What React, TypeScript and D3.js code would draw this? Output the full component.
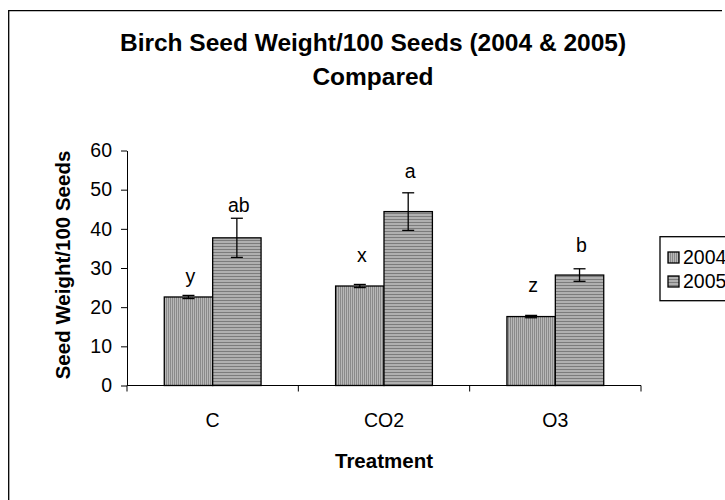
import React, { useRef, useEffect } from 'react';
import * as d3 from 'd3';

// treatments on the x axis
const treatments = ['C', 'CO2', 'O3'];
const years = ['2004', '2005'];

// mean seed weight per 100 seeds
const weight2004 = [22.6, 25.4, 17.6];
const weight2005 = [37.7, 44.4, 28.2];
// error bar half-lengths
const err2004 = [0.4, 0.4, 0.3];
const err2005 = [5.0, 4.8, 1.6];
// significance letters and the value their baseline sits at
const letters2004 = ['y', 'x', 'z'];
const letters2005 = ['ab', 'a', 'b'];
const letterAt2004 = [26.2, 31.6, 24.0];
const letterAt2005 = [44.4, 53.0, 34.2];

const yTicks = [0, 10, 20, 30, 40, 50, 60];

const font = '"Liberation Sans", Arial, sans-serif';

const App = () => {
  const ref = useRef<SVGSVGElement>(null);

  useEffect(() => {
    const svg = d3.select(ref.current);
    svg.selectAll('*').remove();

    const defs = svg.append('defs');
    // 2004: vertical stripes
    const pv = defs.append('pattern').attr('id', 'p2004')
      .attr('patternUnits', 'userSpaceOnUse').attr('width', 2).attr('height', 2);
    pv.append('rect').attr('width', 2).attr('height', 2).attr('fill', '#b8b8b8');
    pv.append('rect').attr('width', 1).attr('height', 2).attr('fill', '#8a8a8a');
    // 2005: horizontal stripes
    const ph = defs.append('pattern').attr('id', 'p2005')
      .attr('patternUnits', 'userSpaceOnUse').attr('width', 3).attr('height', 3);
    ph.append('rect').attr('width', 3).attr('height', 3).attr('fill', '#b0b0b0');
    ph.append('rect').attr('width', 3).attr('height', 1).attr('fill', '#7c7c7c');

    // chart area border (cropped at right and bottom)
    svg.append('path')
      .attr('d', 'M722,10.7H8.7V500')
      .attr('fill', 'none').attr('stroke', 'black').attr('stroke-width', 1.3);

    const x0 = d3.scaleBand().domain(treatments).range([127, 641]);
    const x1 = d3.scaleBand().domain(years).range([0, x0.bandwidth()])
      .paddingInner(0).paddingOuter(0.77);
    const y = d3.scaleLinear().domain([0, 60]).range([385.5, 150.5]);

    const values: Record<string, number[]> = { '2004': weight2004, '2005': weight2005 };
    const errs: Record<string, number[]> = { '2004': err2004, '2005': err2005 };
    const letters: Record<string, string[]> = { '2004': letters2004, '2005': letters2005 };
    const letterAt: Record<string, number[]> = { '2004': letterAt2004, '2005': letterAt2005 };

    // y axis
    const yAxis = svg.append('g')
      .attr('transform', `translate(${x0.range()[0]},0)`)
      .call(d3.axisLeft(y).tickValues(yTicks).tickSize(6).tickSizeOuter(0).tickPadding(9));
    yAxis.select('.domain').attr('stroke', 'black');
    yAxis.selectAll('line').attr('stroke', 'black');
    yAxis.selectAll('text').attr('font-family', font).attr('font-size', 19.5).attr('fill', 'black');

    const g = svg.append('g');

    years.forEach(yr => {
      treatments.forEach((t, i) => {
        const bx = x0(t)! + x1(yr)!;
        const bw = x1.bandwidth();
        const v = values[yr][i];
        g.append('rect')
          .attr('x', bx).attr('y', y(v))
          .attr('width', bw).attr('height', y(0) - y(v))
          .attr('fill', `url(#p${yr})`)
          .attr('stroke', 'black').attr('stroke-width', 1.3);

        const cx = bx + bw / 2;
        const e = errs[yr][i];
        const eb = g.append('g').attr('stroke', 'black').attr('stroke-width', 1.3);
        eb.append('line').attr('x1', cx).attr('x2', cx).attr('y1', y(v - e)).attr('y2', y(v + e));
        eb.append('line').attr('x1', cx - 6).attr('x2', cx + 6).attr('y1', y(v + e)).attr('y2', y(v + e));
        eb.append('line').attr('x1', cx - 6).attr('x2', cx + 6).attr('y1', y(v - e)).attr('y2', y(v - e));

        g.append('text')
          .attr('x', cx + 2).attr('y', y(letterAt[yr][i]))
          .attr('text-anchor', 'middle')
          .attr('font-family', font).attr('font-size', 19.5)
          .text(letters[yr][i]);
      });
    });

    // x axis with ticks at category boundaries
    const [xs, xe] = x0.range();
    svg.append('line').attr('x1', xs).attr('x2', xe).attr('y1', y(0)).attr('y2', y(0))
      .attr('stroke', 'black');
    const bounds = treatments.map(t => x0(t)!).concat([xe]);
    svg.append('g').selectAll('line').data(bounds).join('line')
      .attr('x1', d => d).attr('x2', d => d)
      .attr('y1', y(0)).attr('y2', y(0) + 6)
      .attr('stroke', 'black');
    svg.append('g').selectAll('text').data(treatments).join('text')
      .attr('x', d => x0(d)! + x0.bandwidth() / 2)
      .attr('y', 426.5)
      .attr('text-anchor', 'middle')
      .attr('font-family', font).attr('font-size', 19.5)
      .text(d => d);

    // titles
    const title = svg.append('text')
      .attr('text-anchor', 'middle')
      .attr('font-family', font).attr('font-size', 24.5).attr('font-weight', 'bold');
    title.append('tspan').attr('x', 373).attr('y', 51).text('Birch Seed Weight/100 Seeds (2004 & 2005)');
    title.append('tspan').attr('x', 373).attr('y', 85).text('Compared');

    svg.append('text')
      .attr('x', (xs + xe) / 2).attr('y', 468)
      .attr('text-anchor', 'middle')
      .attr('font-family', font).attr('font-size', 20.5).attr('font-weight', 'bold')
      .text('Treatment');

    svg.append('text')
      .attr('transform', `translate(70,${(y(0) + y(60)) / 2 - 3}) rotate(-90)`)
      .attr('text-anchor', 'middle')
      .attr('font-family', font).attr('font-size', 20.5).attr('font-weight', 'bold')
      .text('Seed Weight/100 Seeds');

    // legend
    svg.append('rect')
      .attr('x', 660).attr('y', 236.7).attr('width', 80).attr('height', 64)
      .attr('fill', 'white').attr('stroke', 'black').attr('stroke-width', 1.3);
    const ly = d3.scalePoint().domain(years).range([257, 281]);
    years.forEach(yr => {
      svg.append('rect')
        .attr('x', 668).attr('y', ly(yr)! - 5).attr('width', 11).attr('height', 11)
        .attr('fill', `url(#p${yr})`).attr('stroke', 'black').attr('stroke-width', 1.3);
      svg.append('text')
        .attr('x', 683).attr('y', ly(yr)! + 7)
        .attr('font-family', font).attr('font-size', 19.5)
        .text(yr);
    });
  }, []);

  return (
    <svg ref={ref} width={725} height={500}
      style={{ position: 'absolute', left: 0, top: 0, background: 'white' }} />
  );
};

export default App;
